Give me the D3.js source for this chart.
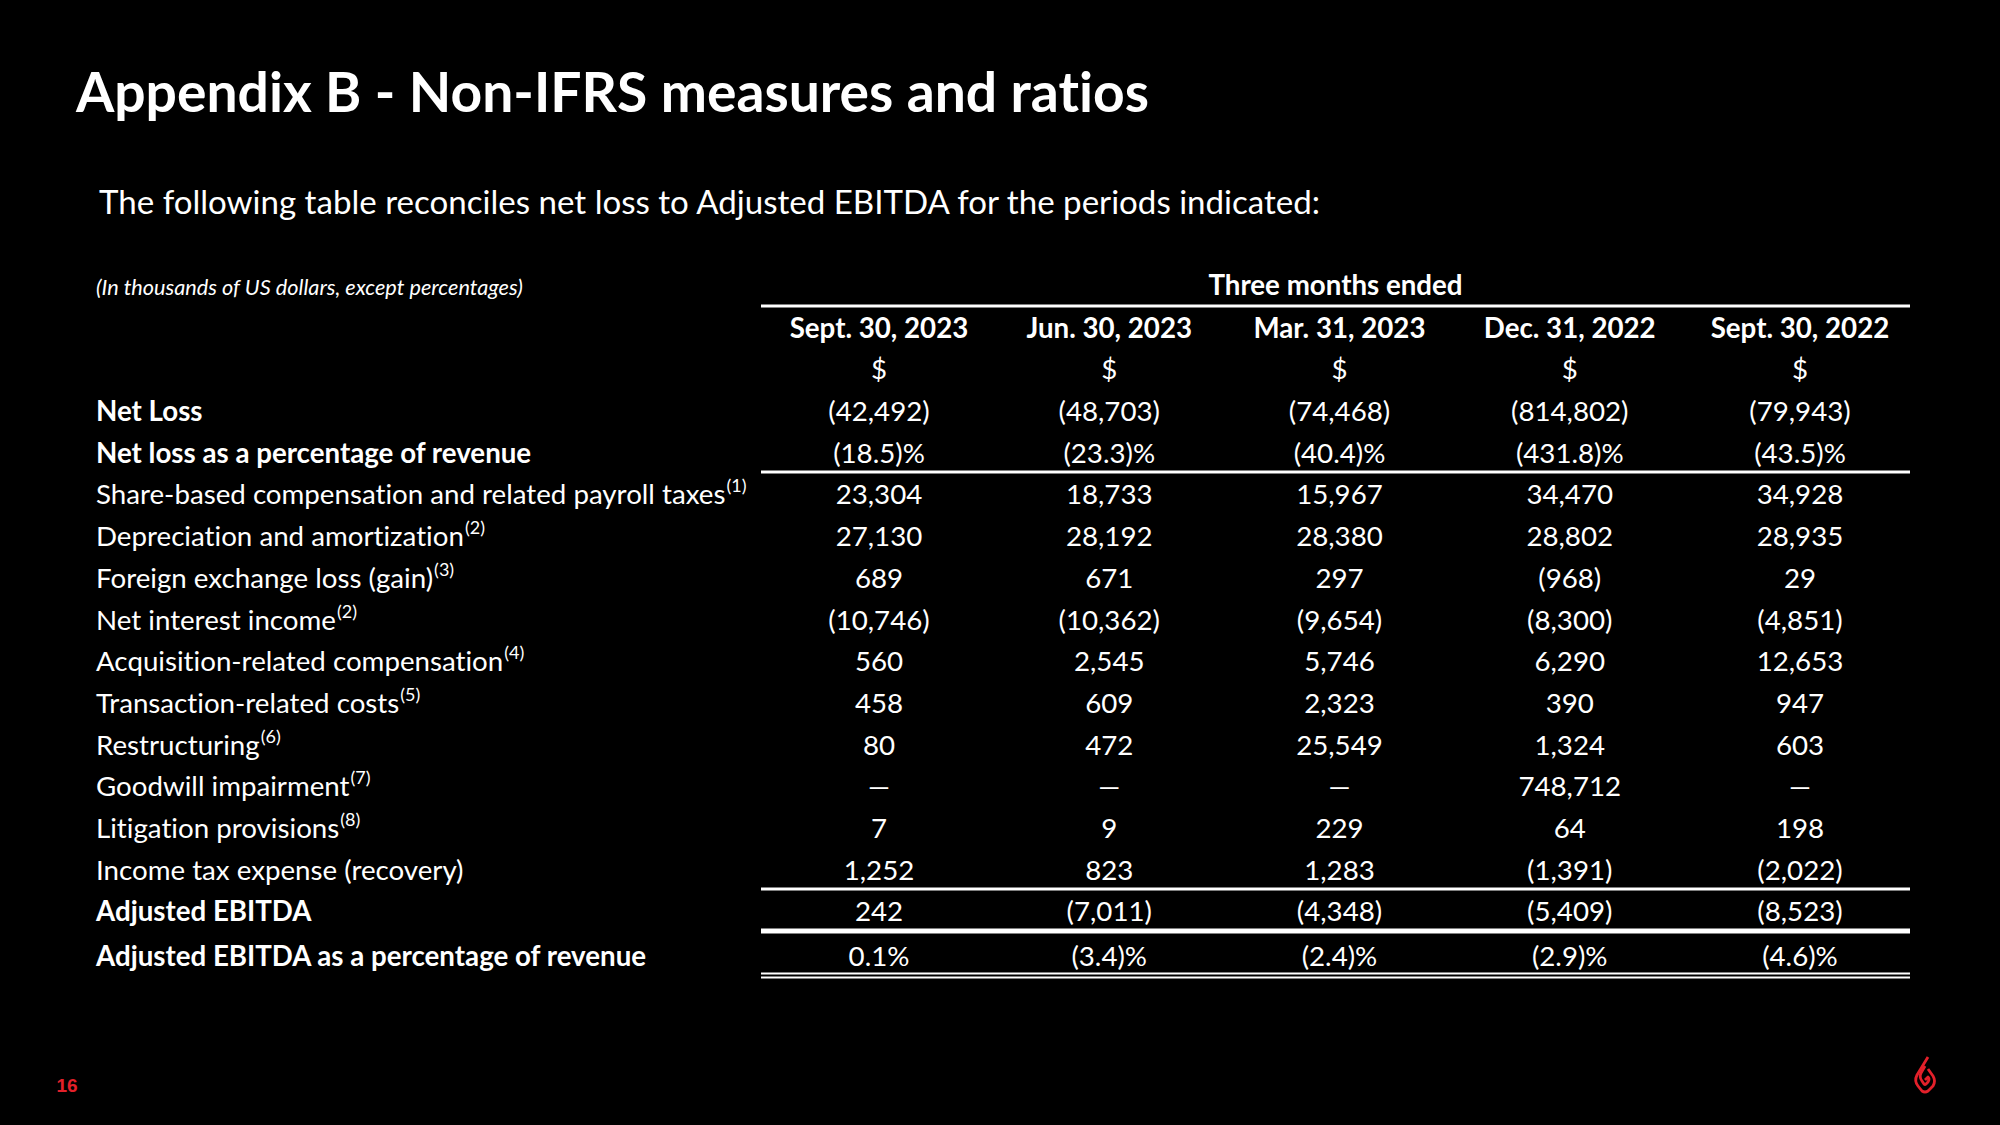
<!DOCTYPE html>
<html><head><meta charset="utf-8">
<script src="https://cdn.jsdelivr.net/npm/d3@7"></script>
<style>html,body{margin:0;padding:0;background:#000;} svg{display:block;} text{font-variant-ligatures:none;font-feature-settings:"liga" 0;}</style>
</head><body>
<svg id="c" width="2000" height="1125"></svg>
<script>
// ---- data ----
const periods = ["Sept. 30, 2023","Jun. 30, 2023","Mar. 31, 2023","Dec. 31, 2022","Sept. 30, 2022"];
const rowLabels = ["Net Loss","Net loss as a percentage of revenue","Share-based compensation and related payroll taxes",
  "Depreciation and amortization","Foreign exchange loss (gain)","Net interest income","Acquisition-related compensation",
  "Transaction-related costs","Restructuring","Goodwill impairment","Litigation provisions","Income tax expense (recovery)",
  "Adjusted EBITDA","Adjusted EBITDA as a percentage of revenue"];
const footnotes = ["","","(1)","(2)","(3)","(2)","(4)","(5)","(6)","(7)","(8)","","",""];
const boldRows = [true,true,false,false,false,false,false,false,false,false,false,false,true,true];
const pctRows = [false,true,false,false,false,false,false,false,false,false,false,false,false,true];
const netLoss = [-42492,-48703,-74468,-814802,-79943];
const netLossPct = [-18.5,-23.3,-40.4,-431.8,-43.5];
const shareBased = [23304,18733,15967,34470,34928];
const depreciation = [27130,28192,28380,28802,28935];
const fxLoss = [689,671,297,-968,29];
const netInterest = [-10746,-10362,-9654,-8300,-4851];
const acquisition = [560,2545,5746,6290,12653];
const transaction = [458,609,2323,390,947];
const restructuring = [80,472,25549,1324,603];
const goodwill = [0,0,0,748712,0];
const litigation = [7,9,229,64,198];
const incomeTax = [1252,823,1283,-1391,-2022];
const adjEbitda = [242,-7011,-4348,-5409,-8523];
const adjEbitdaPct = [0.1,-3.4,-2.4,-2.9,-4.6];
const rowValues = [netLoss,netLossPct,shareBased,depreciation,fxLoss,netInterest,acquisition,transaction,
  restructuring,goodwill,litigation,incomeTax,adjEbitda,adjEbitdaPct];

// ---- drawing ----
const svg = d3.select("#c");
const W = 2000, H = 1125;
svg.append("rect").attr("width",W).attr("height",H).attr("fill","#000");
const FONT = "Lato, 'Open Sans', sans-serif";
const RED = "#e3202a";

svg.append("text").attr("x",76).attr("y",112).attr("fill","#fff")
  .attr("font-family",FONT).attr("font-weight",700).attr("font-size",55.2)
  .text("Appendix B - Non-IFRS measures and ratios");

svg.append("text").attr("x",99).attr("y",214).attr("fill","#fff")
  .attr("font-family",FONT).attr("font-size",33.1)
  .text("The following table reconciles net loss to Adjusted EBITDA for the periods indicated:");

svg.append("text").attr("x",96).attr("y",295).attr("fill","#fff")
  .attr("font-family",FONT).attr("font-style","italic").attr("font-size",21.7)
  .text("(In thousands of US dollars, except percentages)");

const x = d3.scalePoint().domain(periods).range([879,1800]);
const y = d3.scaleLinear().domain([0, rowLabels.length-2]).range([421, 421 + 12*41.7]);
const rowY = i => y(i) + (i === rowLabels.length-1 ? 3 : 0);
const lineX0 = 761, lineX1 = 1910;
const FS = 27.7;

svg.append("text").attr("x",(lineX0+lineX1)/2).attr("y",295).attr("text-anchor","middle")
  .attr("fill","#fff").attr("font-family",FONT).attr("font-weight",700).attr("font-size",FS)
  .text("Three months ended");

const g = svg.append("g").attr("font-family",FONT).attr("font-size",FS).attr("fill","#fff");
g.selectAll("text.hdr").data(periods).join("text").attr("class","hdr")
  .attr("x",d=>x(d)).attr("y",338).attr("text-anchor","middle").attr("font-weight",700).text(d=>d);
g.selectAll("text.cur").data(periods).join("text").attr("class","cur")
  .attr("x",d=>x(d)).attr("y",379).attr("text-anchor","middle").text("$");

// labels
const lab = g.selectAll("text.lab").data(rowLabels).join("text").attr("class","lab")
  .attr("x",96).attr("y",(d,i)=>rowY(i)).attr("font-weight",(d,i)=>boldRows[i]?700:400);
lab.append("tspan").text(d=>d);
lab.filter((d,i)=>footnotes[i]).append("tspan").attr("font-size",18).attr("dy",-12).attr("dx",1)
  .text(d=>footnotes[rowLabels.indexOf(d)]);

const fmtN = d3.format(","), fmtP = d3.format(".1f");
function fmt(v, pct){
  if (pct) return v < 0 ? "(" + fmtP(-v) + ")%" : fmtP(v) + "%";
  if (v === 0) return "\u2014";
  return v < 0 ? "(" + fmtN(-v) + ")" : fmtN(v);
}
rowValues.forEach((vals,i)=>{
  g.selectAll("text.v"+i).data(vals).join("text").attr("class","v"+i)
    .attr("x",(d,j)=>x(periods[j])).attr("y",rowY(i)).attr("text-anchor","middle")
    .text(d=>fmt(d,pctRows[i]));
});

// rules
const rules = [
  {y:306, w:3}, {y:472, w:3}, {y:889, w:3}, {y:931, w:5}, {y:973.5, w:2}, {y:977.5, w:2}
];
svg.selectAll("line.rule").data(rules).join("line").attr("class","rule")
  .attr("x1",lineX0).attr("x2",lineX1).attr("y1",d=>d.y).attr("y2",d=>d.y)
  .attr("stroke","#fff").attr("stroke-width",d=>d.w);

// page number
svg.append("text").attr("x",67).attr("y",1092).attr("text-anchor","middle")
  .attr("font-family","'Liberation Sans', Arial, sans-serif").attr("font-weight",700)
  .attr("font-size",19).attr("fill",RED).text("16");

// logo
const logo = svg.append("g").attr("transform","translate(1925,1075)")
  .attr("fill","none").attr("stroke",RED).attr("stroke-width",2.8).attr("stroke-linejoin","round");
logo.append("path").attr("d","M3,-18 L-8,0 Q-11,6 -7,11 L-3,16 Q0,18 3,16 L8,11 Q11,6 8,1 L3,-6");
logo.append("path").attr("d","M0,-9 L-4,-2 Q-6,2 -3,6 L-1,9 Q0,10 1,9 L3,7 Q5,4 3,2 L0,5");
</script>
</body></html>
